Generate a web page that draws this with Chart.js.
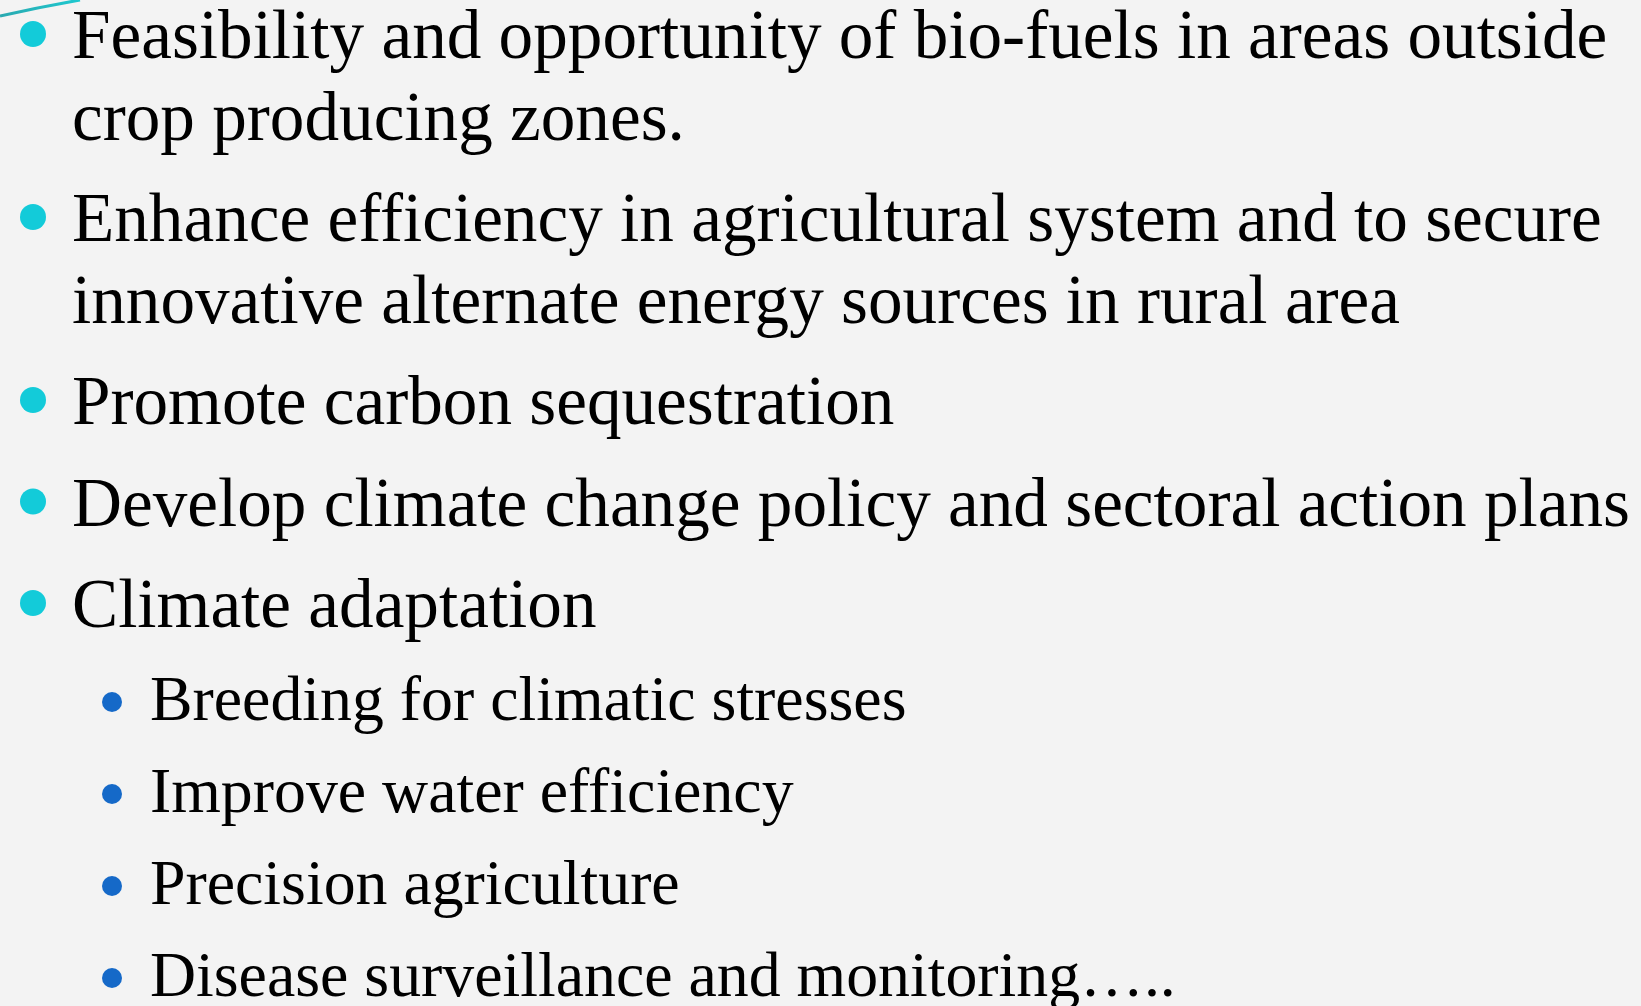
<!DOCTYPE html>
<html>
<head>
<meta charset="utf-8">
<script src="https://cdn.jsdelivr.net/npm/chart.js@4/dist/chart.umd.min.js"></script>
<style>
  html, body { margin: 0; padding: 0; background: #f2f2f2; overflow: hidden; }
  #wrap { width: 1641px; height: 1006px; }
</style>
</head>
<body>
<div id="wrap"><canvas id="slide" width="1641" height="1006"></canvas></div>
<script>
// Slide content
const items = [
    ["Feasibility and opportunity of bio-fuels in areas outside", "crop producing zones."],
    ["Enhance efficiency in agricultural system and to secure", "innovative alternate energy sources in rural area"],
    ["Promote carbon sequestration"],
    ["Develop climate change policy and sectoral action plans"],
    ["Climate adaptation"],
    ["Breeding for climatic stresses"],
    ["Improve water efficiency"],
    ["Precision agriculture"],
    ["Disease surveillance and monitoring….."]
];
const levels = [1, 1, 1, 1, 1, 2, 2, 2, 2];

// layout per indent level
const style = {
    1: { font: 69.2, lead: 81.5, gap: 20, bulletX: 33, textX: 72, dotUp: 24, radius: 13, color: "#13cbd9" },
    2: { font: 63.8, lead: 72, gap: 20, bulletX: 112, textX: 150, dotUp: 18, radius: 10, color: "#1569c8" }
};

// baseline of the first line of every item
let baselines = [];
let y = 58;
items.forEach(function (lines, i) {
    if (i > 0) {
        let s = style[levels[i]];
        y += s.lead + s.gap + (levels[i] != levels[i - 1] ? 1 : 0);
    }
    baselines.push(y);
    y += (lines.length - 1) * style[levels[i]].lead;
});

const bulletPoints = items.map(function (lines, i) {
    let s = style[levels[i]];
    return { x: s.bulletX, y: baselines[i] - s.dotUp };
});

const textPlugin = {
    id: "slideText",
    beforeDraw(chart) {
        const c = chart.ctx;
        c.save();
        c.fillStyle = "#f3f3f3";
        c.fillRect(0, 0, chart.width, chart.height);
        // corner swoosh
        const g = c.createLinearGradient(0, 16, 80, 0);
        g.addColorStop(0, "#2aa9b0");
        g.addColorStop(1, "#1ec8cf");
        c.strokeStyle = g;
        c.lineWidth = 3;
        c.beginPath();
        c.moveTo(0, 16);
        c.quadraticCurveTo(40, 7, 80, 0);
        c.stroke();
        c.restore();
    },
    afterDatasetsDraw(chart) {
        const c = chart.ctx;
        const xs = chart.scales.x, ys = chart.scales.y;
        c.save();
        c.fillStyle = "#000000";
        c.textBaseline = "alphabetic";
        items.forEach(function (lines, i) {
            let s = style[levels[i]];
            c.font = s.font + "px 'Liberation Serif', 'Times New Roman', serif";
            lines.forEach(function (line, k) {
                c.fillText(line, xs.getPixelForValue(s.textX), ys.getPixelForValue(baselines[i] + k * s.lead));
            });
        });
        c.restore();
    }
};

const ctx = document.getElementById("slide").getContext("2d");

const slide = new Chart(ctx, {
    type: "scatter",
    data: {
        datasets: [{
            data: bulletPoints,
            pointRadius: levels.map(l => style[l].radius),
            pointBackgroundColor: levels.map(l => style[l].color),
            pointBorderWidth: 0,
            pointHoverRadius: levels.map(l => style[l].radius),
            clip: false
        }]
    },
    options: {
        responsive: false,
        animation: false,
        events: [],
        layout: { padding: 0, autoPadding: false },
        plugins: { legend: { display: false }, tooltip: { enabled: false } },
        scales: {
            x: { type: "linear", min: 0, max: 1641, display: false },
            y: { type: "linear", min: 0, max: 1006, reverse: true, display: false }
        }
    },
    plugins: [textPlugin]
});
</script>
</body>
</html>
